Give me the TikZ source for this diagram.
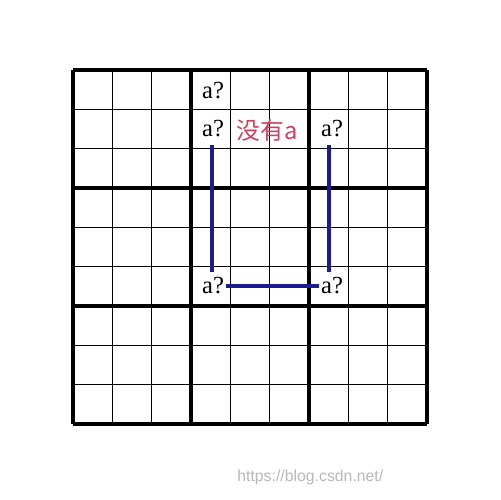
\documentclass[tikz,border=0pt]{standalone}
\usepackage{fontspec}
\setmainfont{Liberation Serif}
\newfontfamily\cjk{Noto Sans CJK SC}
\newfontfamily\wmfont{Liberation Sans}
\definecolor{linkblue}{HTML}{1C1C90}
\definecolor{notered}{HTML}{D0405E}
\begin{document}
\begin{tikzpicture}[x=0.02cm,y=-0.02cm,
  thinline/.style={line width=0.85pt,black},
  thickline/.style={line width=2.2pt,black},
  cand/.style={font=\fontsize{14}{14}\selectfont,inner sep=1pt},
  link/.style={line width=2.2pt,linkblue},
  note/.style={font=\cjk\fontsize{13.5}{13.5}\selectfont,text=notered,inner sep=0pt},
  wm/.style={font=\wmfont\fontsize{9}{9}\selectfont,text=black!28,inner sep=0pt,anchor=west}]
\useasboundingbox (0,0) rectangle (500,500);
\fill[white] (0,0) rectangle (500,500);
% thin grid lines
\foreach \i in {1,2,4,5,7,8}{
  \draw[thinline] (73+39.33*\i,70) -- (73+39.33*\i,424);
  \draw[thinline] (73,70+39.33*\i) -- (427,70+39.33*\i);
}
% thick block lines
\foreach \i in {0,3,6,9}{
  \draw[thickline] (73+39.33*\i,70) -- (73+39.33*\i,424);
  \draw[thickline] (73,70+39.33*\i) -- (427,70+39.33*\i);
}
% candidates
\node[cand] (top) at (213,91) {a?};
\node[cand] (a1) at (213,129) {a?};
\node[cand] (a2) at (332,129) {a?};
\node[cand] (b1) at (213,286) {a?};
\node[cand] (b2) at (332,286) {a?};
\node[note] (none) at (267,130) {没有a};
% links
\draw[link,shorten <=3pt,shorten >=2pt] ([xshift=-0.5pt]a1.south) -- ([xshift=-0.5pt]b1.north);
\draw[link,shorten <=3pt,shorten >=2pt] ([xshift=-1.5pt]a2.south) -- ([xshift=-1.5pt]b2.north);
\draw[link] (b1.east) -- (b2.west);
% watermark
\node[wm] (url) at (237,477) {https://blog.csdn.net/};
\end{tikzpicture}
\end{document}
